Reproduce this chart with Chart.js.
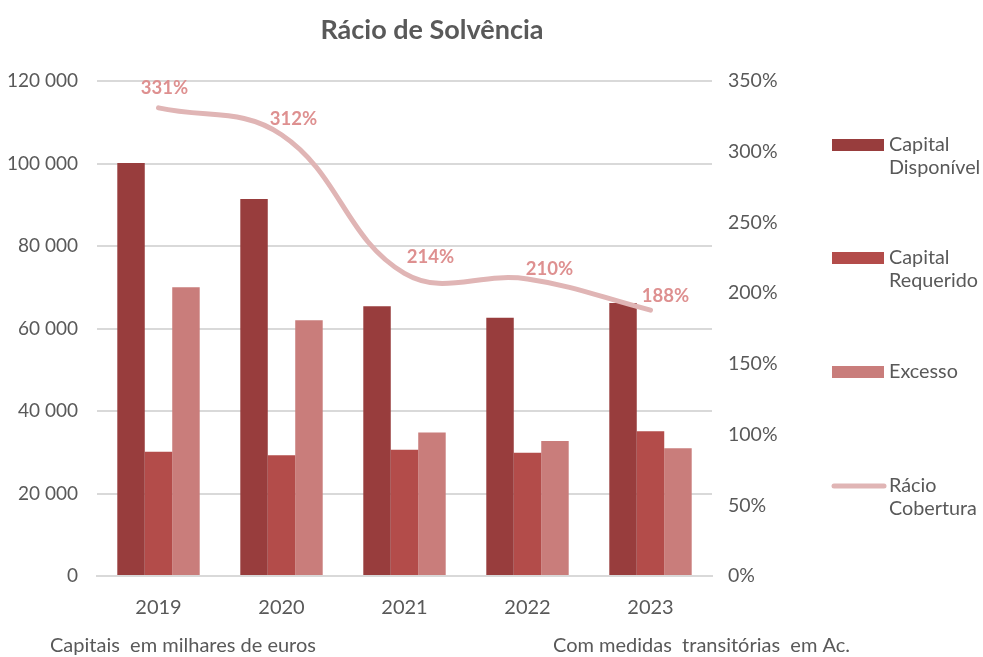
<!DOCTYPE html>
<html>
<head>
<meta charset="utf-8">
<script src="https://cdn.jsdelivr.net/npm/chart.js@4/dist/chart.umd.min.js"></script>
<style>
  body { margin: 0; background: #fff; }
  #wrap { width: 983px; height: 657px; }
</style>
</head>
<body>
<div id="wrap"><canvas id="solvencia" width="983" height="657"></canvas></div>
<script>
// dados (milhares de euros / %)
const anos = ['2019', '2020', '2021', '2022', '2023'];
const capitalDisponivel = [100100, 91400, 65400, 62600, 66200];
const capitalRequerido = [30100, 29300, 30600, 29900, 35100];
const excesso = [70000, 62000, 34800, 32700, 31000];
const racioCobertura = [331, 312, 214, 210, 188];

// posicao das etiquetas do racio (estilo, nao dados)
const labelDx = [6, 12, 26, 22, 15];
const labelDy = [-20, -16, -16, -10, -14];

const FONT = 'Lato, "Open Sans", sans-serif';
const GREY = '#595959';

const racioLabels = {
    id: 'racioLabels',
    afterDatasetsDraw(chart) {
        const ctx = chart.ctx;
        const meta = chart.getDatasetMeta(3);
        ctx.save();
        ctx.font = 'bold 18.5px ' + FONT;
        ctx.fillStyle = '#de9090';
        ctx.textAlign = 'center';
        ctx.textBaseline = 'middle';
        meta.data.forEach(function(pt, i) {
            ctx.fillText(racioCobertura[i] + '%', pt.x + labelDx[i], pt.y + labelDy[i]);
        });
        ctx.restore();
    }
};

// titulo, legenda e notas de rodape
const extras = {
    id: 'extras',
    afterDraw(chart) {
        const ctx = chart.ctx;
        ctx.save();
        ctx.fillStyle = GREY;
        ctx.textBaseline = 'middle';

        ctx.font = 'bold 27px ' + FONT;
        ctx.textAlign = 'center';
        ctx.fillText('Rácio de Solvência', 432, 30);

        ctx.font = '20px ' + FONT;
        ctx.textAlign = 'left';
        ctx.fillText('Capitais  em milhares de euros', 50, 646);
        ctx.fillText('Com medidas  transitórias  em Ac.', 553, 646);

        const legendTop = [145, 258, 372, 486];
        const legendText = [['Capital', 'Disponível'], ['Capital', 'Requerido'], ['Excesso'], ['Rácio', 'Cobertura']];
        ctx.font = '19.8px ' + FONT;
        chart.data.datasets.forEach(function(ds, i) {
            const y = legendTop[i];
            if (ds.type === 'line') {
                ctx.strokeStyle = ds.borderColor;
                ctx.lineWidth = 5;
                ctx.lineCap = 'round';
                ctx.beginPath();
                ctx.moveTo(834, y);
                ctx.lineTo(884, y);
                ctx.stroke();
            } else {
                ctx.fillStyle = ds.backgroundColor;
                ctx.fillRect(832, y - 6, 52, 12);
            }
            ctx.fillStyle = GREY;
            legendText[i].forEach(function(t, j) {
                ctx.fillText(t, 889, y + j * 23);
            });
        });
        ctx.restore();
    }
};

new Chart(document.getElementById('solvencia'), {
    type: 'bar',
    data: {
        labels: anos,
        datasets: [
            { label: 'Capital Disponível', data: capitalDisponivel, backgroundColor: '#983d3d', yAxisID: 'y', order: 1 },
            { label: 'Capital Requerido', data: capitalRequerido, backgroundColor: '#b34c4a', yAxisID: 'y', order: 1 },
            { label: 'Excesso', data: excesso, backgroundColor: '#c97d7b', yAxisID: 'y', order: 1 },
            {
                type: 'line', label: 'Rácio Cobertura', data: racioCobertura, yAxisID: 'y1', order: 0,
                borderColor: '#e0b5b5', borderWidth: 5, borderCapStyle: 'round',
                tension: 0.4, pointRadius: 0, fill: false
            }
        ]
    },
    options: {
        responsive: false,
        animation: false,
        layout: { padding: { top: 81, left: 0, right: 0, bottom: 0 } },
        datasets: { bar: { categoryPercentage: 0.67, barPercentage: 1 } },
        plugins: { legend: { display: false }, tooltip: { enabled: false }, title: { display: false } },
        scales: {
            x: {
                grid: { display: false, drawTicks: false },
                border: { color: '#d9d9d9', width: 2 },
                ticks: { color: GREY, font: { family: FONT, size: 20 }, padding: 20 },
                afterFit(s) { s.height = 81; }
            },
            y: {
                position: 'left', min: 0, max: 120000,
                ticks: {
                    stepSize: 20000, color: GREY, padding: 19, font: { family: FONT, size: 19 },
                    callback: function(v) { return v === 0 ? '0' : (v / 1000) + ' 000'; }
                },
                grid: { color: '#d9d9d9', lineWidth: 2, drawTicks: false },
                border: { display: false },
                afterFit(s) { s.width = 97; }
            },
            y1: {
                position: 'right', min: 0, max: 350,
                ticks: {
                    stepSize: 50, color: GREY, padding: 16, font: { family: FONT, size: 19.5 },
                    callback: function(v) { return v + '%'; }
                },
                grid: { display: false, drawTicks: false },
                border: { display: false },
                afterFit(s) { s.width = 271; }
            }
        }
    },
    plugins: [racioLabels, extras]
});
</script>
</body>
</html>
